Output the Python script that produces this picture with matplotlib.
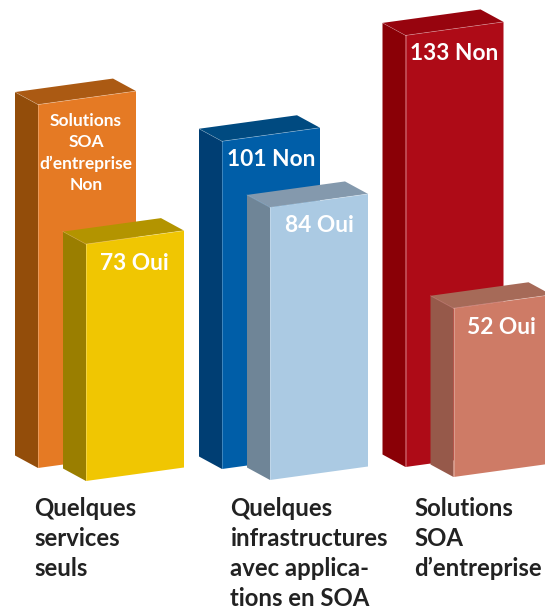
import matplotlib
matplotlib.use('Agg')
import matplotlib.pyplot as plt

# values (orange bar has no number printed, estimated from its height)
non_values = [112, 101, 133]
oui_values = [73, 84, 52]
non_labels = ["Solutions\nSOA\nd\u2019entreprise\nNon", "101 Non", "133 Non"]
oui_labels = ["73 Oui", "84 Oui", "52 Oui"]
categories = ["Quelques\nservices\nseuls",
              "Quelques\ninfrastructures\navec applica-\ntions en SOA",
              "Solutions\nSOA\nd\u2019entreprise"]

# front, side, top
non_colors = [("#E57A24", "#934D0A", "#AB5A13"),
              ("#005EA8", "#003E73", "#004A80"),
              ("#AE0B17", "#8A0006", "#97040E")]
oui_colors = [("#F0C602", "#9A7E00", "#B39400"),
              ("#ABCAE3", "#6F8597", "#8499AD"),
              ("#CE7B66", "#96594A", "#A66A58")]

W, H = 545, 610
PX_PER_UNIT = 3.245
BASE_PX = 468
FONT = "Lato"
BAR_W = 98
DEPTH_X = 23
DEPTH_Y = 12.5 / PX_PER_UNIT
RISE = 13.5 / PX_PER_UNIT

non_x = [38, 222, 405.5]
non_base_px = [468, 469, 467]
oui_x = [86, 270, 453.5]
oui_base_px = [481, 480, 477]
cat_x = [34, 230.5, 414]


def to_val(py):
    return (BASE_PX - py) / PX_PER_UNIT


def draw_bar(ax, x, base, value, colors):
    front, side, top = colors
    x2 = x + BAR_W
    t = base + value
    # side face
    ax.fill([x - DEPTH_X, x, x, x - DEPTH_X],
            [base + DEPTH_Y, base, t, t + DEPTH_Y], color=side, lw=0)
    # top face
    ax.fill([x - DEPTH_X, x, x2, x2 - DEPTH_X],
            [t + DEPTH_Y, t, t + RISE, t + RISE + DEPTH_Y], color=top, lw=0)
    # front face
    ax.fill([x, x2, x2, x],
            [base, base + RISE, t + RISE, t], color=front, lw=0)
    # thin light edges
    ax.plot([x, x2], [t, t + RISE], color="white", lw=0.5, alpha=0.35)
    ax.plot([x, x], [base, t], color="white", lw=0.5, alpha=0.35)
    ax.plot([x - DEPTH_X, x], [t + DEPTH_Y, t], color="white", lw=0.5, alpha=0.25)


fig = plt.figure(figsize=(W / 100, H / 100), dpi=100)
ax = fig.add_axes([0, 0, 1, 1])
ax.set_xlim(0, W)
ax.set_ylim(to_val(H), to_val(0))
ax.axis('off')

for i in range(3):
    draw_bar(ax, non_x[i], to_val(non_base_px[i]), non_values[i], non_colors[i])
    draw_bar(ax, oui_x[i], to_val(oui_base_px[i]), oui_values[i], oui_colors[i])

# labels on the bars
ax.text(86, to_val(153), non_labels[0], color="white", fontsize=12.5, fontweight='bold',
        family=FONT, ha='center', va='center', linespacing=1.39)
ax.text(271, to_val(160), non_labels[1], color="white", fontsize=16.4, fontweight='bold',
        family=FONT, ha='center', va='center')
ax.text(454.5, to_val(53), non_labels[2], color="white", fontsize=16.4, fontweight='bold',
        family=FONT, ha='center', va='center')
ax.text(134.5, to_val(264), oui_labels[0], color="white", fontsize=16.4, fontweight='bold',
        family=FONT, ha='center', va='center')
ax.text(319, to_val(226), oui_labels[1], color="white", fontsize=16.4, fontweight='bold',
        family=FONT, ha='center', va='center')
ax.text(501.5, to_val(328), oui_labels[2], color="white", fontsize=16.4, fontweight='bold',
        family=FONT, ha='center', va='center')

for x, cat in zip(cat_x, categories):
    ax.text(x, to_val(497), cat, color="#222222", fontsize=17.2, fontweight='bold',
            family=FONT, ha='left', va='top', linespacing=1.37)

fig.savefig('out.png', dpi=100)
